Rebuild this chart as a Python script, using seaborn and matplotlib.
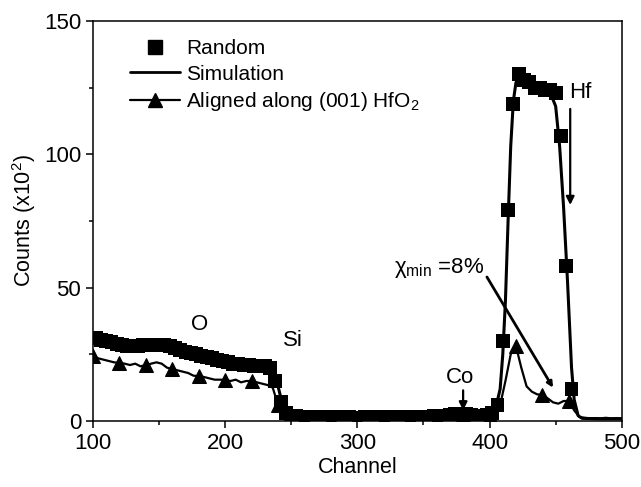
import numpy as np
import pandas as pd
import matplotlib
matplotlib.use('Agg')
import matplotlib.pyplot as plt
from matplotlib.ticker import MultipleLocator
from matplotlib.lines import Line2D
import seaborn as sns


# ── spectrum values ──────────────────────────────────────────────────────────

random_channel = np.arange(102, 463, 4)
random_counts = [
    31, 30.5, 30, 29.5, 29, 28.5, 28, 28, 28,
    28.5, 28.5, 28.5, 28.5, 28.5, 28, 27.5, 26.5, 26,
    25.5, 25, 24.5, 24, 23.5, 23, 22.5, 22, 21.5,
    21.5, 21, 21, 20.5, 20.5, 20.5, 20, 15, 7,
    3, 2, 1.8, 1.6, 1.5, 1.5, 1.4, 1.5, 1.4,
    1.5, 1.4, 1.3, 1.4, 1.3, 1.3, 1.4, 1.3, 1.4,
    1.5, 1.4, 1.5, 1.5, 1.6, 1.5, 1.6, 1.6, 1.7,
    1.7, 1.8, 1.9, 2.0, 2.2, 2.5, 2.8, 2.6, 2.2,
    2.0, 2.0, 2.2, 3.0, 6, 30, 79, 119, 130,
    128, 127, 125, 125, 124, 124, 123, 107, 58,
    12,
]

sim_channel = [100, 110, 120, 130, 140, 150, 160, 170, 180, 190, 200, 210, 220, 230,
               236, 240, 244, 248, 252,
               270, 300, 330, 360, 375, 380, 385, 395, 400,
               404, 408, 410, 412, 414, 416, 418, 420, 424,
               430, 436, 442, 446, 450, 453, 456, 459, 462,
               464, 467, 470, 485, 500]
sim_counts = [31, 30, 28.5, 28, 28.5, 28.5, 28, 26.5, 25, 23.5, 22, 21, 20.5, 20.5,
              19, 13, 5, 2.5, 1.8,
              1.5, 1.4, 1.5, 1.8, 2.4, 2.7, 2.4, 2.0, 2.2,
              3.5, 12, 25, 45, 75, 103, 120, 127, 129,
              127.5, 126, 125, 123, 118, 103, 80, 52, 20,
              8, 2, 1, 0.8, 0.8]

aligned_channel = np.arange(100, 501, 4)
aligned_counts = [
    24.5, 23.5, 23, 22.5, 22, 21.8, 21.5, 21, 21.5,
    20.5, 21, 21.5, 22, 21.5, 20, 19.5, 19, 18.5,
    18, 17, 16.8, 16.5, 16, 15.5, 15.5, 15.4, 15,
    15.5, 14.5, 15, 15, 14.5, 14, 13.5, 12.5, 6,
    2.5, 1.5, 1.2, 1.0, 1.1, 0.9, 1.0, 0.9, 1.2,
    0.9, 1.0, 0.8, 1.0, 0.9, 0.8, 1.0, 0.9, 0.8,
    0.9, 1.1, 0.9, 1.0, 0.9, 1.0, 1.0, 1.1, 1.0,
    1.2, 1.1, 1.2, 1.3, 1.4, 1.6, 1.9, 2.2, 1.8,
    1.5, 1.5, 1.6, 1.8, 2.5, 6, 15, 25, 28,
    20, 13, 11, 10, 9.8, 8.5, 7, 6.5, 7.5,
    7.5, 4, 1.5, 1.2, 1.0, 1.1, 1.0, 1.2, 1.0,
    1.1, 1.0,
]
aligned_marked = list(range(0, 93, 5))   # triangles every 20 channels up to 460

df_random = pd.DataFrame({'channel': random_channel, 'counts': random_counts})
df_sim = pd.DataFrame({'channel': sim_channel, 'counts': sim_counts})
df_aligned = pd.DataFrame({'channel': aligned_channel, 'counts': aligned_counts})


# ── styling ──────────────────────────────────────────────────────────────────

sns.set_theme(style='ticks')
plt.rcParams['font.family'] = ['Liberation Sans', 'DejaVu Sans']
plt.rcParams['mathtext.fontset'] = 'custom'
plt.rcParams['mathtext.rm'] = 'Liberation Sans'
plt.rcParams['mathtext.it'] = 'Liberation Sans:italic'
plt.rcParams['axes.linewidth'] = 1.1
plt.rcParams['text.color'] = 'black'
plt.rcParams['axes.labelcolor'] = 'black'

fig, ax = plt.subplots(figsize=(6.41, 4.87), dpi=100)
fig.subplots_adjust(left=0.145, right=0.970, bottom=0.1355, top=0.957)

sns.lineplot(data=df_sim, x='channel', y='counts', color='black', lw=2.2, ax=ax)
sns.lineplot(data=df_aligned, x='channel', y='counts', color='black', lw=1.6,
             marker='^', markersize=9.5, markevery=aligned_marked,
             markeredgecolor='black', ax=ax)
sns.scatterplot(data=df_random, x='channel', y='counts', marker='s', s=100,
                color='black', edgecolor='none', zorder=3, ax=ax)

ax.set_xlim(100, 500)
ax.set_ylim(0, 150)
ax.xaxis.set_major_locator(MultipleLocator(100))
ax.xaxis.set_minor_locator(MultipleLocator(50))
ax.yaxis.set_major_locator(MultipleLocator(50))
ax.yaxis.set_minor_locator(MultipleLocator(25))
ax.tick_params(which='major', direction='out', length=5, width=1.1,
               labelsize=16, color='black', labelcolor='black')
ax.tick_params(which='minor', direction='out', length=3, width=1.1, color='black')
for sp in ax.spines.values():
    sp.set_color('black')

ax.set_xlabel('Channel', fontsize=15.5, labelpad=2)
ax.set_ylabel('Counts (x10$^2$)', fontsize=15.5, labelpad=4)

# ── element labels and arrows ────────────────────────────────────────────────

ax.text(181, 36, 'O', ha='center', va='center', fontsize=16)
ax.text(251, 30, 'Si', ha='center', va='center', fontsize=16)
ax.text(378, 16.5, 'Co', ha='center', va='center', fontsize=16)
ax.text(469, 123, 'Hf', ha='center', va='center', fontsize=16)
ax.text(362, 57.5, 'χ$_{\\mathrm{min}}$ =8%', ha='center', va='center', fontsize=16)

arrow = dict(arrowstyle='-|>', lw=1.6, color='black', mutation_scale=12,
             shrinkA=0, shrinkB=0)
ax.annotate('', xy=(380, 4), xytext=(380, 11.5), arrowprops=arrow)
ax.annotate('', xy=(461, 81), xytext=(461, 117), arrowprops=arrow)
ax.annotate('', xy=(448, 12.5), xytext=(398, 54),
            arrowprops=dict(arrowstyle='-|>', lw=2, color='black',
                            mutation_scale=8, shrinkA=0, shrinkB=0))

handles = [
    Line2D([], [], color='black', marker='s', markersize=9.5, linestyle='none'),
    Line2D([], [], color='black', lw=2),
    Line2D([], [], color='black', lw=1.6, marker='^', markersize=9.5),
]
labels = ['Random', 'Simulation', 'Aligned along (001) HfO$_2$']
ax.legend(handles, labels, loc='upper left', bbox_to_anchor=(0.07, 0.955),
          frameon=False, fontsize=15, handlelength=2.4, handletextpad=0.3,
          labelspacing=0.32, borderpad=0, borderaxespad=0)

fig.savefig('out.png', dpi=100)
